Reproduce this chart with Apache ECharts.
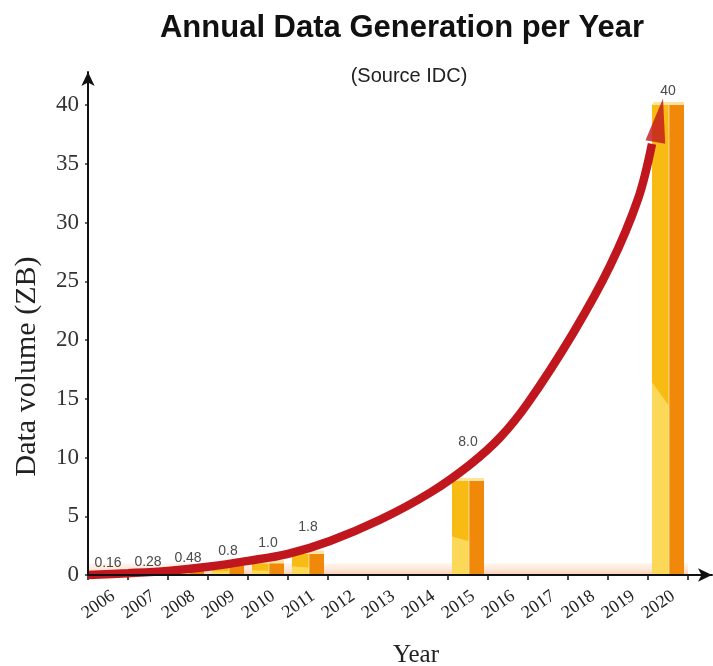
<!DOCTYPE html>
<html>
<head>
<meta charset="utf-8">
<script src="https://cdn.jsdelivr.net/npm/echarts@6/dist/echarts.min.js"></script>
<style>
  html, body { margin: 0; padding: 0; background: #ffffff; }
  #chart { width: 713px; height: 666px; }
</style>
</head>
<body>
<div id="chart"></div>
<script>
// Every year on the category axis
const years = ['2006', '2007', '2008', '2009', '2010', '2011', '2012', '2013',
               '2014', '2015', '2016', '2017', '2018', '2019', '2020'];
// Years with a published volume and the volume label (ZB)
const barYears = ['2006', '2007', '2008', '2009', '2010', '2011', '2015', '2020'];
const volumeText = ['0.16', '0.28', '0.48', '0.8', '1.0', '1.8', '8.0', '40'];
const volumes = volumeText.map(Number);
// Growth trend drawn as a red arrow (year position, ZB)
const trendYears  = [2005.5, 2006.5, 2007.5, 2008.5, 2009.5, 2010.5, 2011.55, 2012.8,
                     2014.05, 2015.05, 2015.8, 2016.5, 2017.63, 2018.55, 2019.25, 2019.6];
const trendValues = [0, 0.15, 0.35, 0.7, 1.2, 1.8, 2.9, 4.7,
                     7.0, 9.4, 11.7, 14.65, 20.6, 26.3, 32.0, 36.7];
// Arrowhead at the end of the trend
const arrowYear = [2019.78];
const arrowValue = [38.7];
// Value axis ticks
const yTicks = [0, 5, 10, 15, 20, 25, 30, 35, 40];

// Styling
const labelLift = [10, 10, 11, 14, 20, 27, 39, 14];   // px above each bar top
const FLOOR_DEPTH = 1.0;                               // pale floor strip height (ZB)
const RED = '#c0161d';
const SERIF = '"Liberation Serif", "Times New Roman", serif';
const SANS = '"Liberation Sans", Arial, sans-serif';

function renderBar(params, api) {
  const i = params.dataIndex;
  const base = api.coord([api.value(0), 0]);
  const top = api.coord([api.value(0), api.value(1)]);
  const band = api.size([1, 0])[0];
  const w = band * 0.8;
  const x0 = base[0] - w / 2;
  const wl = w * 0.53;
  const h = base[1] - top[1];
  const cap = Math.min(3, h * 0.6);
  return {
    type: 'group',
    children: [
      { type: 'rect', shape: { x: x0, y: top[1], width: wl, height: h },
        style: { fill: '#f8bb14' } },
      { type: 'rect', shape: { x: x0 + wl, y: top[1], width: w - wl, height: h },
        style: { fill: '#f0880a' } },
      { type: 'polygon', shape: { points: [[x0, base[1]], [x0, base[1] - 0.41 * h],
          [x0 + wl, base[1] - 0.36 * h], [x0 + wl, base[1]]] },
        style: { fill: '#fcd858' } },
      { type: 'line', shape: { x1: x0 + wl, y1: top[1], x2: x0 + wl, y2: base[1] },
        style: { stroke: 'rgba(255,228,160,0.85)', lineWidth: 1 } },
      { type: 'polygon', shape: { points: [[x0, top[1]], [x0 + 2, top[1] - cap],
          [x0 + w, top[1] - cap], [x0 + w, top[1]]] },
        style: { fill: '#fde3a0' } },
      { type: 'text', x: base[0], y: top[1] - labelLift[i],
        style: { text: volumeText[i], fill: '#4a4a4a', font: '14px ' + SANS,
                 align: 'center', verticalAlign: 'middle' } }
    ]
  };
}

const chart = echarts.init(document.getElementById('chart'));
chart.setOption({
  animation: false,
  backgroundColor: '#ffffff',
  title: [
    { text: 'Annual Data Generation per Year', left: 397, top: 8, textAlign: 'center',
      textStyle: { fontFamily: SANS, fontSize: 31, fontWeight: 'bold', color: '#111' } },
    { text: '(Source IDC)', left: 404, top: 61, textAlign: 'center',
      textStyle: { fontFamily: SANS, fontSize: 20, fontWeight: 'normal', color: '#222' } }
  ],
  grid: [
    { left: 88, right: 25, top: 105, bottom: 91, outerBoundsMode: 'none', containLabel: false },
    { left: 88, right: 1, top: 72, bottom: 91, outerBoundsMode: 'none', containLabel: false }
  ],
  xAxis: [
    { type: 'category', gridIndex: 0, data: years, boundaryGap: true,
      axisLine: { show: false },
      axisTick: { show: true, length: 5, lineStyle: { color: '#111', width: 1.5 } },
      axisLabel: { interval: 0, rotate: 35, margin: 12, verticalAlign: 'top',
                   fontFamily: SERIF, fontSize: 18, color: '#222' },
      splitLine: { show: false } },
    { type: 'value', gridIndex: 1, min: 0, max: 1, z: 5,
      axisLine: { show: true, onZero: false, symbol: ['none', 'arrow'], symbolSize: [10, 14],
                  lineStyle: { color: '#111', width: 2 } },
      axisTick: { show: false }, axisLabel: { show: false }, splitLine: { show: false },
      name: 'Year', nameLocation: 'middle', nameGap: 68,
      nameTextStyle: { fontFamily: SERIF, fontSize: 25, color: '#222', padding: [0, 0, 0, 32] } },
    { type: 'value', gridIndex: 0, min: 2005.5, max: 2020.5, show: false }
  ],
  yAxis: [
    { type: 'value', gridIndex: 0, min: yTicks[0], max: yTicks[yTicks.length - 1],
      interval: yTicks[1] - yTicks[0],
      axisLine: { show: false },
      axisTick: { show: true, length: 3, lineStyle: { color: '#333', width: 1.5 } },
      axisLabel: { margin: 9, fontFamily: SERIF, fontSize: 23, color: '#333' },
      splitLine: { show: false } },
    { type: 'value', gridIndex: 1, min: 0, max: 1, z: 5,
      axisLine: { show: true, onZero: false, symbol: ['none', 'arrow'], symbolSize: [10, 14],
                  lineStyle: { color: '#111', width: 2 } },
      axisTick: { show: false }, axisLabel: { show: false }, splitLine: { show: false },
      name: 'Data volume (ZB)', nameLocation: 'middle', nameRotate: 90, nameGap: 46,
      nameTextStyle: { fontFamily: SERIF, fontSize: 30, color: '#222', padding: [0, 86, 0, 0] } }
  ],
  series: [
    {
      type: 'custom', name: 'Data volume', xAxisIndex: 0, yAxisIndex: 0,
      data: barYears.map((y, i) => [y, volumes[i]]),
      encode: { x: 0, y: 1 },
      renderItem: renderBar,
      z: 3,
      markArea: {
        silent: true,
        itemStyle: {
          color: new echarts.graphic.LinearGradient(0, 0, 0, 1, [
            { offset: 0, color: 'rgba(253,228,210,0.35)' },
            { offset: 1, color: 'rgba(251,208,182,1)' }
          ])
        },
        data: [[{ yAxis: 0 }, { yAxis: FLOOR_DEPTH }]]
      }
    },
    {
      type: 'line', name: 'Trend', xAxisIndex: 2, yAxisIndex: 0,
      data: trendYears.map((y, i) => [y, trendValues[i]]),
      smooth: 0.35, showSymbol: false, symbol: 'none', clip: false,
      lineStyle: { color: RED, width: 8.5, cap: 'butt' },
      z: 4
    },
    {
      type: 'scatter', name: 'Trend arrow', xAxisIndex: 2, yAxisIndex: 0,
      data: arrowYear.map((y, i) => [y, arrowValue[i]]),
      symbol: 'triangle', symbolSize: [20, 44], symbolRotate: -10, clip: false,
      itemStyle: { color: RED },
      z: 4
    }
  ]
});
</script>
</body>
</html>
